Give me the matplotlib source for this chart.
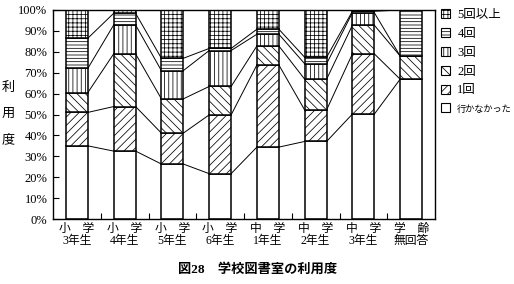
import matplotlib
matplotlib.use("Agg")
import matplotlib.pyplot as plt
from matplotlib.patches import Patch
import numpy as np

plt.rcParams['font.family'] = ['Liberation Serif', 'Noto Sans CJK JP']
plt.rcParams['hatch.linewidth'] = 0.55

# 学年ごとの利用度 (%)
categories = ["小　学\n3年生", "小　学\n4年生", "小　学\n5年生", "小　学\n6年生",
              "中　学\n1年生", "中　学\n2年生", "中　学\n3年生", "学　齢\n無回答"]
series_names = ["行かなかった", "1回", "2回", "3回", "4回", "5回以上"]
none_ = [35.0, 32.5, 26.3, 21.7, 34.4, 37.1, 50.2, 66.9]
once = [16.0, 21.3, 14.8, 28.1, 39.3, 15.1, 28.8, 0.0]
twice = [9.5, 25.2, 16.4, 13.6, 9.1, 14.7, 13.7, 11.1]
three = [11.6, 13.8, 13.5, 17.2, 5.6, 7.4, 6.0, 0.0]
four = [14.4, 5.6, 5.9, 1.0, 2.4, 3.1, 0.7, 22.0]
five_plus = [13.5, 1.6, 23.1, 18.4, 9.2, 22.6, 0.6, 0.0]

series = [none_, once, twice, three, four, five_plus]
hatches = ["", "////", "\\\\\\\\", "||||", "-----", "++++"]

fig = plt.figure(figsize=(5.14, 2.84), dpi=100)
ax = fig.add_axes([53/514, 1 - 219/284, (435 - 53)/514, (219 - 10)/284])

x = np.arange(len(categories))
w = 0.46
bottom = np.zeros(len(categories))
bounds = []
for vals, h in zip(series, hatches):
    vals = np.array(vals)
    ax.bar(x, vals, w, bottom=bottom, color="white", edgecolor="black",
           linewidth=1.1, hatch=h, zorder=2)
    bottom = bottom + vals
    bounds.append(bottom.copy())

# 棒どうしを結ぶ線
for cum in bounds[:-1]:
    for i in range(len(categories) - 1):
        ax.plot([x[i] + w/2, x[i+1] - w/2], [cum[i], cum[i+1]],
                color="black", lw=0.7, zorder=1)

ax.set_xlim(-0.5, len(categories) - 0.5)
ax.set_ylim(0, 100)
ax.set_yticks(np.arange(0, 101, 10))
ax.set_yticklabels([f"{v}%" for v in range(0, 101, 10)], fontsize=9)
ax.tick_params(axis='y', direction='in', length=4, width=0.8, pad=4)
ax.set_xticks(x)
ax.set_xticklabels(categories, fontsize=8.5, linespacing=1.0)
ax.tick_params(axis='x', which='major', length=0, pad=3)
ax.set_xticks(np.arange(0.5, len(categories) - 1, 1), minor=True)
ax.tick_params(axis='x', which='minor', direction='in', length=4, width=0.8)
for s in ax.spines.values():
    s.set_linewidth(1.0)

for ch, yy in zip("利用度", [88, 114, 140]):
    fig.text(8/514, 1 - yy/284, ch, fontsize=9.5, ha='center', va='center')

handles = [Patch(facecolor="white", edgecolor="black", hatch=h, linewidth=0.8)
           for h in hatches]
leg = fig.legend(handles[::-1], series_names[::-1], loc='upper left',
                 bbox_to_anchor=(441/514, 1 - 9/284), frameon=False, fontsize=9,
                 handlelength=0.7, handleheight=0.7, handletextpad=0.6,
                 labelspacing=0.55, borderaxespad=0, borderpad=0)
leg.get_texts()[-1].set_fontsize(6.6)

fig.text(258/514, 1 - 269/284, "図28　学校図書室の利用度", fontsize=9.5,
         fontweight='bold', ha='center', va='center')

fig.savefig("out.png", dpi=100)
